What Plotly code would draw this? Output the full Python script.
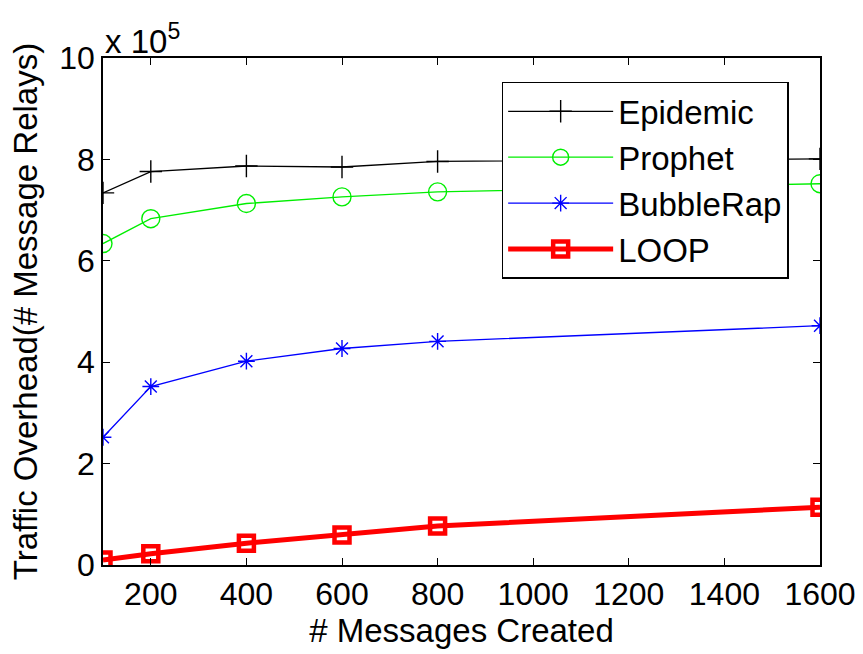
import plotly.graph_objects as go

x_vals = [100, 200, 400, 600, 800, 1600]
epidemic = [7.34, 7.76, 7.87, 7.85, 7.96, 8.01]
prophet = [6.34, 6.83, 7.13, 7.26, 7.36, 7.52]
bubblerap = [2.52, 3.52, 4.02, 4.27, 4.41, 4.72]
loop = [0.10, 0.22, 0.43, 0.59, 0.77, 1.14]

x_ticks = [200, 400, 600, 800, 1000, 1200, 1400, 1600]
y_ticks = [0, 2, 4, 6, 8, 10]

font_family = "Liberation Sans, Arial, sans-serif"
FS = 33

fig = go.Figure()
fig.add_trace(go.Scatter(x=x_vals, y=epidemic, name="Epidemic", mode="lines+markers",
                         line=dict(color="black", width=1.3),
                         marker=dict(symbol="cross-thin-open", size=16, color="black",
                                     line=dict(color="black", width=1.4))))
fig.add_trace(go.Scatter(x=x_vals, y=prophet, name="Prophet", mode="lines+markers",
                         line=dict(color="#00ee00", width=1.3),
                         marker=dict(symbol="circle-open", size=18, color="#00ee00",
                                     line=dict(color="#00ee00", width=1.4))))
fig.add_trace(go.Scatter(x=x_vals, y=bubblerap, name="BubbleRap", mode="lines+markers",
                         line=dict(color="#0000ff", width=1.3),
                         marker=dict(symbol="asterisk-open", size=14, color="#0000ff",
                                     line=dict(color="#0000ff", width=1.4))))
fig.add_trace(go.Scatter(x=x_vals, y=loop, name="LOOP", mode="lines+markers",
                         line=dict(color="#ff0000", width=5),
                         marker=dict(symbol="square-open", size=15, color="#ff0000",
                                     line=dict(color="#ff0000", width=4.5))))

fig.update_layout(
    width=863, height=654,
    margin=dict(l=103, r=43, t=58, b=89),
    paper_bgcolor="white", plot_bgcolor="white",
    font=dict(family=font_family, size=FS, color="black"),
    showlegend=True,
    legend=dict(x=0.556, y=0.953, xanchor="left", yanchor="top",
                bgcolor="white", bordercolor="black", borderwidth=1.5,
                font=dict(size=FS, family=font_family),
                itemwidth=105, tracegroupgap=0),
    xaxis=dict(range=[100, 1600], tickvals=x_ticks, ticktext=[str(v) for v in x_ticks],
               ticks="inside", ticklen=7, tickcolor="black", tickwidth=1,
               showline=True, linecolor="black", linewidth=1.5, mirror="ticks",
               showgrid=False, zeroline=False, automargin=False,
               title=dict(text="# Messages Created", font=dict(size=FS), standoff=0),
               tickfont=dict(size=32)),
    yaxis=dict(range=[0, 10], tickvals=y_ticks, ticktext=[str(v) for v in y_ticks],
               ticks="inside", ticklen=7, tickcolor="black", tickwidth=1,
               showline=True, linecolor="black", linewidth=1.5, mirror="ticks",
               showgrid=False, zeroline=False, automargin=False,
               title=dict(text="Traffic Overhead(# Message Relays)", font=dict(size=FS), standoff=12),
               tickfont=dict(size=32)),
)

fig.add_annotation(text="x 10<sup>5</sup>", xref="paper", yref="paper", x=0.0, y=1.0,
                   xanchor="left", yanchor="bottom", showarrow=False,
                   font=dict(size=FS, family=font_family), yshift=-4)

fig.write_html("out.html")
